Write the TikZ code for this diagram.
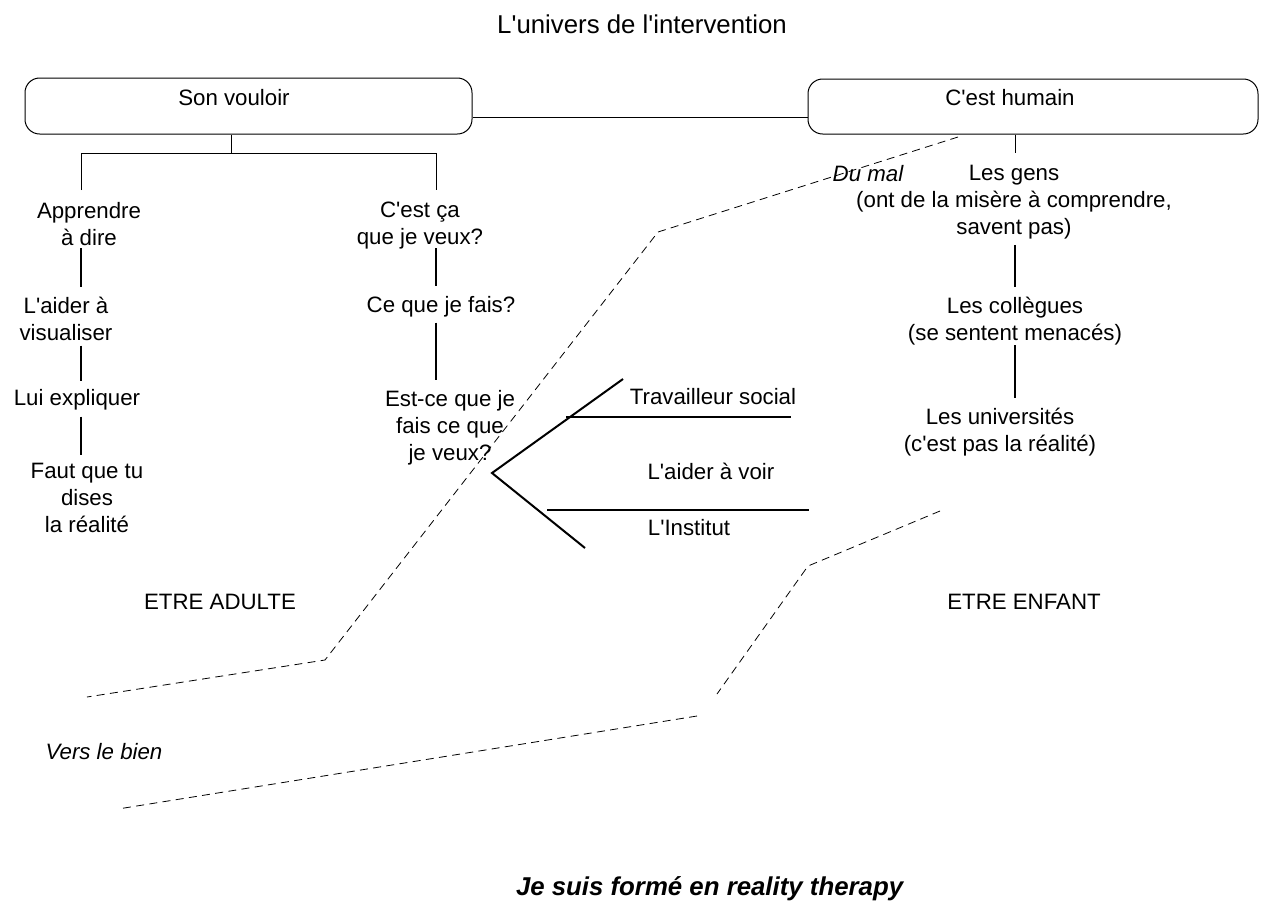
\documentclass[tikz,border=0pt]{standalone}
\usepackage{fontspec}
\setmainfont{Liberation Sans}
\usetikzlibrary{calc}
\newcommand{\aq}{\textquotesingle}
\begin{document}
\begin{tikzpicture}[x=0.75pt,y=-0.75pt,
  txt/.style={inner sep=0pt, outer sep=0pt, align=center, font=\fontsize{16.7}{20.25}\selectfont},
  bigtxt/.style={inner sep=0pt, outer sep=0pt, font=\fontsize{19.35}{23}\selectfont},
  boxnode/.style={draw, line width=0.75pt, rounded corners=11pt, inner sep=0pt},
  thinline/.style={line width=0.75pt},
  vl/.style={line width=1.2pt},
  forkline/.style={line width=1.5pt},
  dsh/.style={line width=0.6pt, dash pattern=on 6pt off 4pt}]
\useasboundingbox (0,0) rectangle (1264,901);

% title
\node[bigtxt, anchor=base] (title) at (642,33) {L\aq univers de l\aq intervention};

% boxes
\node[boxnode, minimum width=335.25pt, minimum height=42pt] (b1) at (248.5,106) {};
\node[txt, anchor=base] (b1t) at (234,105) {Son vouloir};
\node[boxnode, minimum width=337.5pt, minimum height=41.25pt] (b2) at (1033,106.5) {};
\node[txt, anchor=base] (b2t) at (1010,105) {C\aq est humain};
\coordinate (yl) at (0,117);
\draw[thinline] (b1.east |- yl) -- (b2.west |- yl);

% left columns
\node[txt, anchor=north] (appr) at (89,202) {Apprendre\\à dire};
\node[txt, anchor=north] (aider) at (66,297) {L\aq aider à\\visualiser};
\node[txt, anchor=base] (lui) at (77,405) {Lui expliquer};
\node[txt, anchor=north] (faut) at (87,463) {Faut que tu\\dises\\la réalité};
\node[txt, anchor=north] (cest) at (420,202) {C\aq est ça\\que je veux?};
\node[txt, anchor=base] (cequ) at (441,312) {Ce que je fais?};
\node[txt, anchor=north] (estce) at (450,390) {Est-ce que je\\fais ce que\\je veux?};

\coordinate (j1) at (231,153);
\coordinate (bl) at (81,153);
\coordinate (br) at (436,153);
\coordinate (cA) at (81,0);
\coordinate (cB) at (436,0);
\coordinate (cC) at (1015,0);
\draw[thinline] (b1.south -| j1) -- (j1);
\draw[thinline] ($(appr.north -| bl)+(0,-12)$) -- (bl) -- (br) -- ($(cest.north -| br)+(0,-12)$);

\draw[vl] ($(appr.south -| cA)+(0,3)$) -- ($(aider.north -| cA)+(0,-10)$);
\draw[vl] ($(aider.south -| cA)+(0,5)$) -- ($(lui.north -| cA)+(0,-8)$);
\draw[vl] ($(lui.south -| cA)+(0,7)$) -- ($(faut.north -| cA)+(0,-8)$);
\draw[vl] ($(cest.south -| cB)+(0,-1)$) -- ($(cequ.north -| cB)+(0,-10)$);
\draw[vl] ($(cequ.south -| cB)+(0,6)$) -- ($(estce.north -| cB)+(0,-10)$);

% right column
\node[txt, anchor=north] (gens) at (1014,165) {Les gens\\(ont de la misère à comprendre,\\savent pas)};
\node[txt, anchor=north] (coll) at (1015,297) {Les collègues\\(se sentent menacés)};
\node[txt, anchor=north] (univ) at (1000,408) {Les universités\\(c\aq est pas la réalité)};
\coordinate (j2) at (1015,153);
\draw[thinline] (b2.south -| j2) -- (j2);
\draw[vl] ($(gens.south -| cC)+(0,6)$) -- ($(coll.north -| cC)+(0,-10)$);
\draw[vl] ($(coll.south -| cC)+(0,0)$) -- ($(univ.north -| cC)+(0,-10)$);

% fork
\coordinate (fu) at (623,379);
\coordinate (fa) at (492,473);
\coordinate (fl) at (585,548);
\draw[forkline] (fu) -- (fa) -- (fl);
\coordinate (h1a) at (566,417);
\coordinate (h1b) at (791,417);
\coordinate (h2a) at (547,510);
\coordinate (h2b) at (809,510);
\draw[forkline] (h1a) -- (h1b);
\draw[forkline] (h2a) -- (h2b);
\node[txt, anchor=base] (trav) at (713,404) {Travailleur social};
\node[txt, anchor=base] (voir) at (711,479) {L\aq aider à voir};
\node[txt, anchor=base] (inst) at (689,535) {L\aq Institut};

% labels
\node[txt, anchor=base, font=\fontsize{16.7}{20.25}\selectfont\itshape] (dumal) at (868,181) {Du mal};
\node[txt, anchor=base] (adulte) at (220,609) {ETRE ADULTE};
\node[txt, anchor=base] (enfant) at (1024,609) {ETRE ENFANT};
\node[txt, anchor=base, font=\fontsize{16.7}{20.25}\selectfont\itshape] (bien) at (104,759) {Vers le bien};
\node[bigtxt, anchor=base west, font=\fontsize{19.35}{23}\selectfont\bfseries\itshape] (motto) at (516,895) {Je suis formé en reality therapy};

% dashed boundaries
\coordinate (d1) at (958,137);
\coordinate (d2) at (658,232);
\coordinate (d3) at (325,660);
\coordinate (d4) at (87,697);
\draw[dsh] (d1) -- (d2) -- (d3) -- (d4);
\coordinate (e1) at (940,511);
\coordinate (e2) at (808,566);
\coordinate (e3) at (717,694);
\draw[dsh] (e1) -- (e2) -- (e3);
\coordinate (e4) at (697,716);
\coordinate (e5) at (118,809);
\draw[dsh] (e4) -- (e5);
\end{tikzpicture}
\end{document}
